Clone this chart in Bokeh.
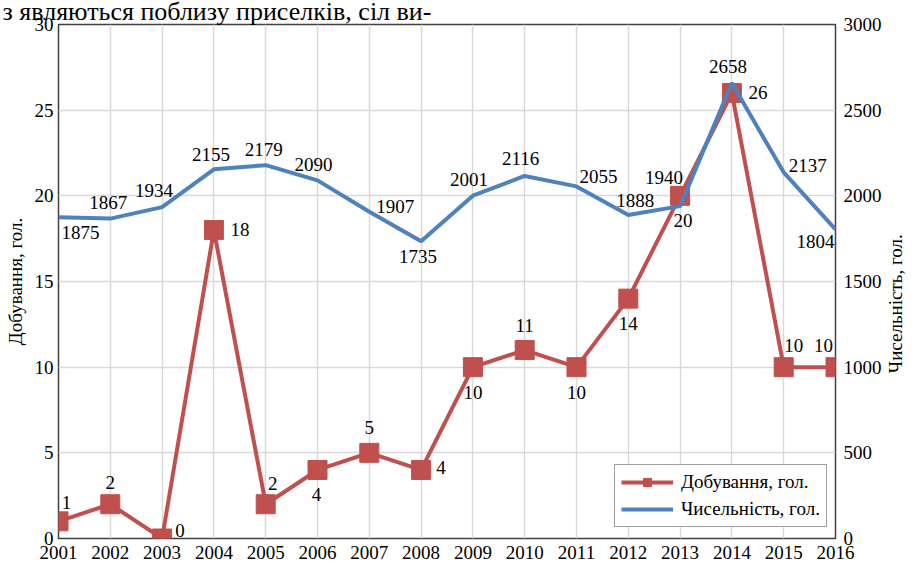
import math
from bokeh.plotting import figure
from bokeh.models import (Range1d, LinearAxis, FixedTicker, ColumnDataSource,
                          LabelSet, Legend, LegendItem)
from bokeh.embed import file_html
from bokeh.resources import INLINE
from bokeh.core.properties import value

# ---- data ----
years = [2001, 2002, 2003, 2004, 2005, 2006, 2007, 2008,
         2009, 2010, 2011, 2012, 2013, 2014, 2015, 2016]
harvest = [1, 2, 0, 18, 2, 4, 5, 4, 10, 11, 10, 14, 20, 26, 10, 10]
population = [1875, 1867, 1934, 2155, 2179, 2090, 1907, 1735,
              2001, 2116, 2055, 1888, 1940, 2658, 2137, 1804]
year_labels = [str(y) for y in years]
left_ticks = [0, 5, 10, 15, 20, 25, 30]
right_ticks = [0, 500, 1000, 1500, 2000, 2500, 3000]
harvest_name = "Добування, гол."
population_name = "Чисельність, гол."
top_text = "з являються поблизу приселків, сіл ви-"

# data-label placement (screen px: right, up)
harvest_dx = [8, 0, 18, 26, 7, -1, 0, 20, 0, 0, 0, 0, 3, 26, 10, -12]
harvest_dy = [19, 22, 8, 1, 21, -25, 25, 2, -25, 25, -25, -25, -25, 1, 22, 22]
pop_dx = [22, -2, -8, -3, -2, -4, 26, -3, -4, -4, 22, 7, -16, -4, 24, -20]
pop_dy = [-15, 16, 17, 15, 16, 16, 5, -15, 16, 17, 10, 15, 29, 17, 7, -12]

FONT = "Liberation Serif"
RED = "#C0504D"
BLUE = "#4F81BD"
GRID = "#D9D9D9"
DARK = "#404040"

p = figure(width=919, height=566, output_backend="svg", toolbar_location=None,
           x_range=Range1d(2001, 2016), y_range=Range1d(0, 30),
           min_border_left=58, min_border_right=73, min_border_top=22,
           min_border_bottom=28)
p.extra_y_ranges = {"right": Range1d(0, 3000)}
p.outline_line_color = DARK
p.outline_line_width = 1.5
p.background_fill_color = "white"
p.border_fill_color = "white"

# cut-off line of document text above the chart
p.title.text = top_text
p.title.text_font = FONT
p.title.text_font_size = "26px"
p.title.text_font_style = "normal"
p.title.text_color = "black"
p.title.align = "left"
p.title.vertical_align = "top"
p.title.offset = -56
p.title.standoff = -7

def style_axis(ax, standoff, size="19px"):
    ax.major_tick_out = 0
    ax.major_tick_in = 0
    ax.minor_tick_out = 0
    ax.minor_tick_in = 0
    ax.axis_line_color = None
    ax.major_label_text_font = FONT
    ax.major_label_text_font_size = size
    ax.major_label_text_color = "black"
    ax.major_label_standoff = standoff
    ax.axis_label_text_font = FONT
    ax.axis_label_text_font_size = "19px"
    ax.axis_label_text_font_style = "normal"
    ax.axis_label_text_color = "black"

p.xaxis.ticker = FixedTicker(ticks=years)
p.xaxis.major_label_overrides = {y: l for y, l in zip(years, year_labels)}
style_axis(p.xaxis[0], 7)
p.yaxis.ticker = FixedTicker(ticks=left_ticks)
style_axis(p.yaxis[0], 5)
p.yaxis.axis_label = harvest_name
p.yaxis.axis_label_standoff = 6

ax_r = LinearAxis(y_range_name="right", ticker=FixedTicker(ticks=right_ticks))
style_axis(ax_r, 8)
p.add_layout(ax_r, "right")

# right-hand axis title, reading bottom-to-top, starting near 965 on the right scale
title_anchor = 965
ax_t = LinearAxis(y_range_name="right", ticker=FixedTicker(ticks=[title_anchor]),
                  major_label_overrides={title_anchor: population_name},
                  major_label_orientation=math.pi / 2)
style_axis(ax_t, 11, "19px")
p.add_layout(ax_t, "right")

p.xgrid.ticker = FixedTicker(ticks=years)
p.xgrid.grid_line_color = GRID
p.xgrid.grid_line_width = 1.5
p.ygrid.grid_line_color = GRID
p.ygrid.grid_line_width = 1.5

src_h = ColumnDataSource(dict(x=years, y=harvest, t=[str(v) for v in harvest],
                              dx=harvest_dx, dy=harvest_dy))
src_p = ColumnDataSource(dict(x=years, y=population, t=[str(v) for v in population],
                              dx=pop_dx, dy=pop_dy))

r_hl = p.line("x", "y", source=src_h, line_color=RED, line_width=4)
r_hs = p.scatter("x", "y", source=src_h, marker="square", size=19,
                 fill_color=RED, line_color=RED)
r_pl = p.line("x", "y", source=src_p, line_color=BLUE, line_width=4,
              y_range_name="right")

for src, rng in ((src_h, "default"), (src_p, "right")):
    p.add_layout(LabelSet(x="x", y="y", text="t", source=src, x_offset="dx", y_offset="dy",
                          y_range_name=rng,
                          text_font=value(FONT), text_font_size="19px", text_color="black",
                          text_align="center", text_baseline="middle"))

legend = Legend(items=[LegendItem(label=harvest_name, renderers=[r_hl, r_hs]),
                       LegendItem(label=population_name, renderers=[r_pl])],
                location=(556, 11), orientation="vertical",
                label_text_font=FONT, label_text_font_size="19px", label_text_color="black",
                glyph_width=52, glyph_height=20, label_height=20, label_standoff=8,
                spacing=5, padding=6, margin=0,
                border_line_color=DARK, border_line_width=1,
                background_fill_color="white", background_fill_alpha=1)
p.add_layout(legend)

open("out.html", "w").write(file_html(p, INLINE))
